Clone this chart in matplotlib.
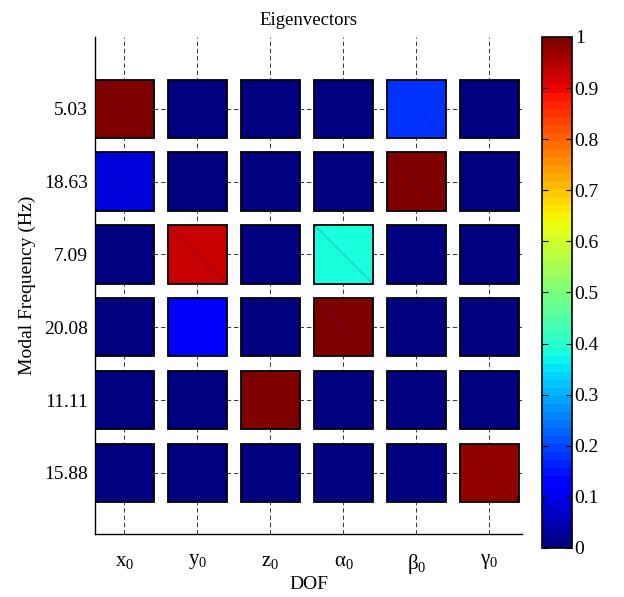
import numpy as np
import matplotlib
matplotlib.use('Agg')
import matplotlib.pyplot as plt
from matplotlib.colors import Normalize

plt.rcParams['font.family'] = ['Liberation Serif', 'DejaVu Serif']
plt.rcParams['mathtext.fontset'] = 'custom'
plt.rcParams['mathtext.rm'] = 'Liberation Serif'
plt.rcParams['mathtext.it'] = 'Liberation Serif'
plt.rcParams['font.size'] = 14

# data
dof_labels = ['x$_0$', 'y$_0$', 'z$_0$', 'α$_0$', 'β$_0$', 'γ$_0$']
freq_labels = ['5.03', '18.63', '7.09', '20.08', '11.11', '15.88']
row_503 = [1.00, 0.01, 0.01, 0.01, 0.18, 0.01]
row_1863 = [0.08, 0.01, 0.01, 0.01, 0.99, 0.01]
row_709 = [0.01, 0.93, 0.01, 0.39, 0.01, 0.01]
row_2008 = [0.01, 0.12, 0.01, 1.00, 0.01, 0.01]
row_1111 = [0.01, 0.01, 0.99, 0.01, 0.01, 0.01]
row_1588 = [0.01, 0.01, 0.01, 0.01, 0.01, 0.98]

vals = np.array([row_503, row_1863, row_709, row_2008, row_1111, row_1588])

cmap = plt.get_cmap('jet', 64)
norm = Normalize(0, 1)

fig = plt.figure(figsize=(6.24, 5.97), dpi=100)
ax = fig.add_axes([0.1522, 0.1055, 0.6843, 0.8325])

xs = np.arange(1, 7)
w = 0.8
for i, row in enumerate(vals):
    y = i + 1
    ax.bar(xs, w, width=w, bottom=y - w / 2, color=cmap(norm(row)),
           edgecolor='black', linewidth=1.3, zorder=3)
    # thin diagonal left by the patch triangulation
    for x in xs:
        ax.plot([x - w / 2, x + w / 2], [y - w / 2, y + w / 2],
                color='#000080', lw=0.4, alpha=0.45, zorder=4)

ax.set_xlim(0.596, 6.445)
ax.set_ylim(6.84, 0.014)
ax.set_xticks(xs)
ax.set_xticklabels(dof_labels, fontsize=15)
ax.set_yticks(np.arange(1, 7))
ax.set_yticklabels(freq_labels)
ax.tick_params(axis='x', length=0, pad=13)
ax.tick_params(axis='y', length=0, pad=5)
ax.grid(True, color='#333333', linestyle=(0, (4.5, 3)), linewidth=0.7, zorder=0)
ax.set_axisbelow(True)
for s in ['top', 'right']:
    ax.spines[s].set_visible(False)
for s in ['left', 'bottom']:
    ax.spines[s].set_linewidth(1.0)

ax.set_title('Eigenvectors', fontsize=13.5, pad=9)
ax.set_xlabel('DOF', labelpad=0)
ax.set_ylabel('Modal Frequency (Hz)', labelpad=6)

cax = fig.add_axes([0.8686, 0.0821, 0.048, 0.856])
sm = matplotlib.cm.ScalarMappable(norm=norm, cmap=cmap)
cb = fig.colorbar(sm, cax=cax, ticks=np.round(np.arange(0, 1.01, 0.1), 1))
cb.ax.set_yticklabels(['0', '0.1', '0.2', '0.3', '0.4', '0.5', '0.6', '0.7', '0.8', '0.9', '1'])
cb.ax.tick_params(direction='in', length=4, width=0.8, left=True, right=True, pad=2)
cb.outline.set_linewidth(1.2)

fig.savefig('out.png', dpi=100)
